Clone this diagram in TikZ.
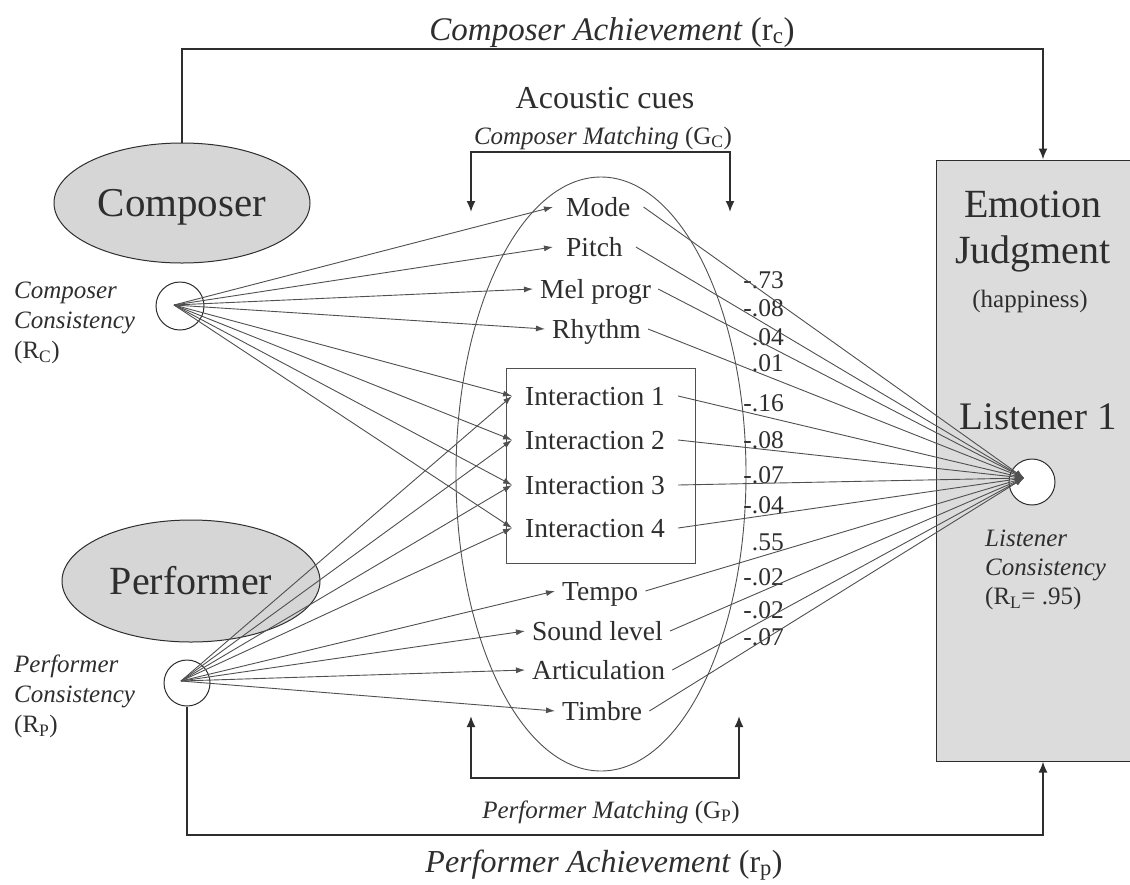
\documentclass[tikz,border=0pt]{standalone}
\usepackage{fontspec}
\setmainfont{Liberation Serif}
\usetikzlibrary{shapes.geometric,arrows.meta}
\definecolor{ink}{HTML}{2E2E2E}
\definecolor{lineg}{HTML}{505050}
\definecolor{fillg}{HTML}{D6D6D6}
\definecolor{boxg}{HTML}{DCDCDC}
\newcommand{\myfs}[1]{\fontsize{#1pt}{#1pt}\selectfont}
\begin{document}
\begin{tikzpicture}[x=1pt,y=-1pt,
  cue/.style={font=\myfs{27.5}, text=ink, anchor=west, inner ysep=0pt, inner xsep=7pt, text height=18pt, text depth=0pt},
  cuew/.style={cue, inner xsep=13pt},
  coef/.style={font=\myfs{25.5}, text=ink, anchor=east, inner sep=0pt, text height=17pt, text depth=0pt},
  arr/.style={draw=lineg, line width=0.9pt, -{Latex[length=9pt,width=6pt]}},
  brk/.style={draw=ink, line width=1.8pt},
  endarr/.style={-{Latex[length=11pt,width=9pt]}},
  twoarr/.style={{Latex[length=11pt,width=9pt]}-{Latex[length=11pt,width=9pt]}},
  ital/.style={font={\fontsize{25pt}{30pt}\selectfont\itshape}, text=ink, anchor=north west, align=left, inner sep=0pt},
  big/.style={font=\myfs{40}, text=ink, anchor=base, inner sep=0pt}
]
\useasboundingbox (0,0) rectangle (1130,884);
\fill[white] (0,0) rectangle (1130,884);

% big shapes
\node[draw=ink, line width=1pt, fill=boxg, minimum width=214pt, minimum height=601pt, inner sep=0pt] (box) at (1043,460.5) {};
\node[ellipse, draw=ink, line width=1pt, fill=fillg, minimum width=256pt, minimum height=120pt, inner sep=0pt, font=\myfs{41}, text=ink, text height=27pt, text depth=0pt] (comp) at (182,203) {Composer};
\node[ellipse, draw=ink, line width=1pt, fill=fillg, minimum width=258pt, minimum height=122pt, inner sep=0pt, font=\myfs{40}, text=ink, text height=27pt, text depth=0pt] (perf) at (191,581) {Performer};
\node[ellipse, draw=lineg, line width=0.9pt, minimum width=290pt, minimum height=594pt, inner sep=0pt] (cueell) at (601,474) {};
\node[draw=lineg, line width=0.9pt, minimum width=189pt, minimum height=195pt, inner sep=0pt] (ibox) at (600.5,465.5) {};

% circles
\node[circle, draw=ink, line width=1pt, fill=white, minimum size=48pt, inner sep=0pt] (cc) at (180,306) {};
\node[circle, draw=ink, line width=1pt, fill=white, minimum size=46pt, inner sep=0pt] (pc) at (187,683) {};
\node[circle, draw=ink, line width=1pt, fill=white, minimum size=46pt, inner sep=0pt] (lc) at (1032,482) {};
\coordinate (ct) at (174,305);
\coordinate (pt) at (181,681);
\coordinate (lt) at (1024,478);

% box texts
\node[big] (emo) at (1033,217) {Emotion};
\node[big] (judg) at (1033,263) {Judgment};
\node[font=\myfs{25}, text=ink, anchor=base, inner sep=0pt] (happ) at (1030,307) {(happiness)};
\node[font=\myfs{39}, text=ink, anchor=base, inner sep=0pt] (lis) at (1038,429) {Listener 1};

% consistency labels
\node[ital] (cclab) at (14,282) {Composer\\Consistency\\{\upshape(R\textsubscript{C})}};
\node[ital] (pclab) at (14,655) {Performer\\Consistency\\{\upshape(R\textsubscript{P})}};
\node[ital, font={\fontsize{25pt}{29pt}\selectfont\itshape}] (lclab) at (985,530) {Listener\\Consistency\\{\upshape(R\textsubscript{L}= .95)}};

% titles
\node[font=\myfs{33}, text=ink, anchor=base, inner sep=0pt] (cach) at (612,40) {\textit{Composer Achievement} (r\textsubscript{c})};
\node[font=\myfs{32}, text=ink, anchor=base, inner sep=0pt] (acu) at (605,108) {Acoustic cues};
\node[font=\myfs{25}, text=ink, anchor=base, inner sep=0pt] (cmat) at (603,144) {\textit{Composer Matching} (G\textsubscript{C})};
\node[font=\myfs{25}, text=ink, anchor=base, inner sep=0pt] (pmat) at (611,818) {\textit{Performer Matching} (G\textsubscript{P})};
\node[font=\myfs{32}, text=ink, anchor=base, inner sep=0pt] (pach) at (604,872) {\textit{Performer Achievement} (r\textsubscript{p})};

% cues
\node[cuew] (mode) at (553,207) {Mode};
\node[cuew] (pitch) at (553,247) {Pitch};
\node[cue] (mel) at (533,289) {Mel progr};
\node[cue] (rhy) at (545,329) {Rhythm};
\node[cuew] (i1) at (512,396) {Interaction 1};
\node[cuew] (i2) at (512,440) {Interaction 2};
\node[cuew] (i3) at (512,485) {Interaction 3};
\node[cuew] (i4) at (512,528) {Interaction 4};
\node[cue] (tempo) at (555,591) {Tempo};
\node[cue] (sound) at (525,631) {Sound level};
\node[cue] (artic) at (525,670) {Articulation};
\node[cue] (timb) at (555,711) {Timbre};

% coefficients
\node[coef] (k1) at (784,280) {-.73};
\node[coef] (k2) at (784,308) {-.08};
\node[coef] (k3) at (784,337) {.04};
\node[coef] (k4) at (784,363) {.01};
\node[coef] (k5) at (784,403) {-.16};
\node[coef] (k6) at (784,440) {-.08};
\node[coef] (k7) at (784,475) {-.07};
\node[coef] (k8) at (784,505) {-.04};
\node[coef] (k9) at (784,542) {.55};
\node[coef] (k10) at (784,577) {-.02};
\node[coef] (k11) at (784,610) {-.02};
\node[coef] (k12) at (784,637) {-.07};

% composer arrows
\foreach \t in {mode,pitch,mel,rhy,i1,i2,i3,i4}
  \draw[arr] (ct) -- (\t.west);
% performer arrows
\foreach \t in {i1,i2,i3,i4,tempo,sound,artic,timb}
  \draw[arr] (pt) -- (\t.west);
% listener arrows
\foreach \t in {mode,pitch,mel,rhy,i1,i2,i3,i4,tempo,sound,artic,timb}
  \draw[arr] (\t.east) -- (lt);

% achievement paths
\coordinate (topy) at (0,49);
\coordinate (boty) at (0,835);
\draw[brk, endarr] (comp.north) -- (comp.north |- topy) -- (box.north |- topy) -- (box.north);
\draw[brk, endarr] (pc.south) -- (pc.south |- boty) -- (box.south |- boty) -- (box.south);

% matching brackets
\coordinate (tbl) at (471,212);
\coordinate (tbr) at (730,212);
\coordinate (tby) at (0,152);
\draw[brk, twoarr] (tbl) -- (tbl |- tby) -- (tbr |- tby) -- (tbr);
\coordinate (bbl) at (471,716);
\coordinate (bbr) at (739,716);
\coordinate (bby) at (0,778);
\draw[brk, twoarr] (bbl) -- (bbl |- bby) -- (bbr |- bby) -- (bbr);
\end{tikzpicture}
\end{document}
